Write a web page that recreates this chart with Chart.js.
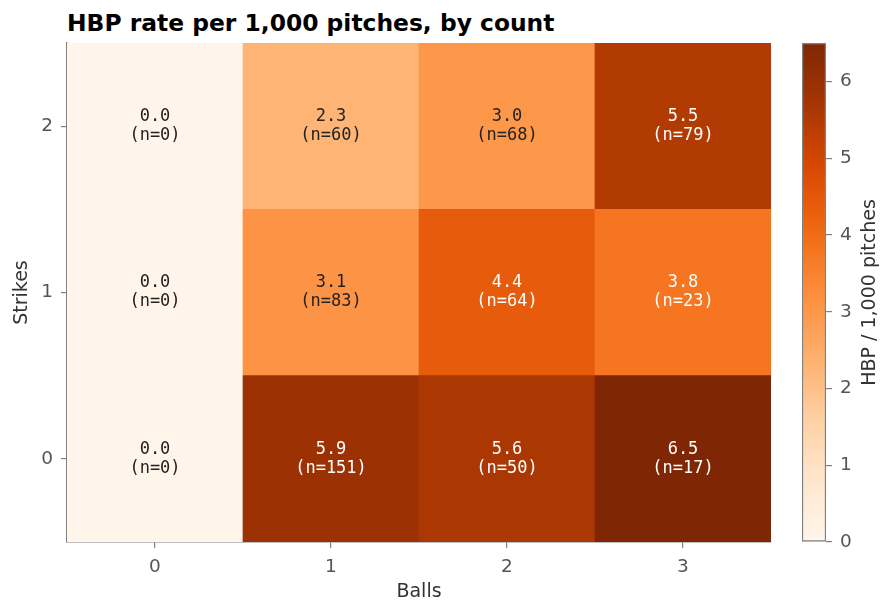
<!DOCTYPE html>
<html>
<head>
<meta charset="utf-8">
<script src="https://cdn.jsdelivr.net/npm/chart.js@4.4.1/dist/chart.umd.min.js"></script>
<style>
  body { margin: 0; background: #fff; }
  #wrap { position: relative; width: 894px; height: 616px; }
  #title { position: absolute; left: 67px; top: 9px; font: bold 23.4px "DejaVu Sans", sans-serif; color: #000; white-space: nowrap; }
  #main { position: absolute; left: 0; top: 0; }
  #cbar { position: absolute; left: 790px; top: 0; }
</style>
</head>
<body>
<div id="wrap">
  <div id="title">HBP rate per 1,000 pitches, by count</div>
  <canvas id="main" width="894" height="616"></canvas>
  <canvas id="cbar" width="104" height="616"></canvas>
</div>
<script>
// Data
const balls = ["0", "1", "2", "3"];
const strikes = [0, 1, 2];
// HBP per 1,000 pitches, one array per strike count (balls 0..3)
const rateStrike0 = [0.0, 5.9, 5.6, 6.5];
const rateStrike1 = [0.0, 3.1, 4.4, 3.8];
const rateStrike2 = [0.0, 2.3, 3.0, 5.5];
// pitch counts
const nStrike0 = [0, 151, 50, 17];
const nStrike1 = [0, 83, 64, 23];
const nStrike2 = [0, 60, 68, 79];
const colorTicks = [0, 1, 2, 3, 4, 5, 6];
const vmax = 6.5;

const rates = [rateStrike0, rateStrike1, rateStrike2];
const counts = [nStrike0, nStrike1, nStrike2];

// ------------------- Colormap (Oranges) -------------------
const oranges = ["#fff5eb","#fee6ce","#fdd0a2","#fdae6b","#fd8d3c","#f16913","#d94801","#a63603","#7f2704"];
function hexToRgb(h) {
  return [parseInt(h.slice(1,3),16), parseInt(h.slice(3,5),16), parseInt(h.slice(5,7),16)];
}
function orangeColor(t) {
  t = Math.max(0, Math.min(1, t));
  const pos = t * (oranges.length - 1);
  const i = Math.min(Math.floor(pos), oranges.length - 2);
  const f = pos - i;
  const a = hexToRgb(oranges[i]), b = hexToRgb(oranges[i+1]);
  const c = a.map((v,k) => Math.round(v + (b[k]-v)*f));
  return `rgb(${c[0]},${c[1]},${c[2]})`;
}

const grey = "#808080";
const tickFont = { family: "DejaVu Sans", size: 18.5 };
const labelFont = { family: "DejaVu Sans", size: 19 };

// ------------------- Heatmap -------------------
const datasets = strikes.map((s, si) => ({
  label: "Strikes " + s,
  data: balls.map(() => [s - 0.5, s + 0.5]),
  backgroundColor: rates[si].map(v => orangeColor(v / vmax)),
  borderWidth: 0,
  barPercentage: 1,
  categoryPercentage: 1,
  grouped: false
}));

const cellLabels = {
  id: "cellLabels",
  afterDatasetsDraw(chart) {
    const ctx = chart.ctx;
    const x = chart.scales.x, y = chart.scales.y;
    ctx.save();
    ctx.font = '17px "DejaVu Sans Mono", monospace';
    ctx.textAlign = "center";
    ctx.textBaseline = "middle";
    strikes.forEach((s, si) => {
      balls.forEach((b, bi) => {
        const v = rates[si][bi];
        const px = x.getPixelForValue(bi);
        const py = y.getPixelForValue(s);
        ctx.fillStyle = v > vmax / 2 ? "#ffffff" : "#222222";
        ctx.fillText(v.toFixed(1), px, py - 9.5);
        ctx.fillText("(n=" + counts[si][bi] + ")", px, py + 9.5);
      });
    });
    ctx.restore();
  }
};

new Chart(document.getElementById("main"), {
  type: "bar",
  data: { labels: balls, datasets },
  options: {
    responsive: false,
    animation: false,
    layout: { padding: { left: 0, right: 123, top: 43, bottom: 0 } },
    plugins: { legend: { display: false }, tooltip: { enabled: false } },
    scales: {
      x: {
        offset: true,
        grid: { offset: false, drawOnChartArea: false, drawTicks: true, tickLength: 6, color: grey, lineWidth: 1.2 },
        border: { display: true, color: grey, width: 1.5 },
        ticks: { color: "#555", font: tickFont, padding: 8, maxRotation: 0 },
        title: { display: true, text: "Balls", color: "#333", font: labelFont, padding: { top: 0, bottom: 13 } },
        afterFit(scale) { scale.height = 74; }
      },
      y: {
        min: -0.5,
        max: 2.5,
        afterBuildTicks(scale) { scale.ticks = strikes.map(v => ({ value: v })); },
        grid: { drawOnChartArea: false, drawTicks: true, tickLength: 6, color: grey, lineWidth: 1.2 },
        border: { display: true, color: grey, width: 1.5 },
        ticks: { color: "#555", font: tickFont, padding: 8 },
        title: { display: true, text: "Strikes", color: "#333", font: labelFont, padding: { top: 11, bottom: 0 } },
        afterFit(scale) { scale.width = 67; }
      }
    }
  },
  plugins: [cellLabels]
});

// ------------------- Colorbar -------------------
const cbarTitle = {
  id: "cbarTitle",
  afterDraw(chart) {
    const ctx = chart.ctx;
    const area = chart.chartArea;
    ctx.save();
    ctx.translate(80, (area.top + area.bottom) / 2);
    ctx.rotate(-Math.PI / 2);
    ctx.font = '19px "DejaVu Sans", sans-serif';
    ctx.fillStyle = "#333";
    ctx.textAlign = "center";
    ctx.textBaseline = "middle";
    ctx.fillText("HBP / 1,000 pitches", 0, 0);
    ctx.restore();
  }
};

new Chart(document.getElementById("cbar"), {
  type: "bar",
  data: {
    labels: [""],
    datasets: [{
      data: [[0, vmax]],
      backgroundColor(ctx) {
        const area = ctx.chart.chartArea;
        if (!area) return oranges[4];
        const g = ctx.chart.ctx.createLinearGradient(0, area.bottom, 0, area.top);
        for (let i = 0; i <= 20; i++) g.addColorStop(i / 20, orangeColor(i / 20));
        return g;
      },
      borderColor: grey,
      borderWidth: 1.5,
      borderSkipped: false,
      barPercentage: 1,
      categoryPercentage: 1
    }]
  },
  options: {
    responsive: false,
    animation: false,
    layout: { padding: { left: 12, right: 0, top: 43, bottom: 74 } },
    plugins: { legend: { display: false }, tooltip: { enabled: false } },
    scales: {
      x: { display: false },
      y: {
        position: "right",
        min: 0,
        max: vmax,
        afterBuildTicks(scale) { scale.ticks = colorTicks.map(v => ({ value: v })); },
        grid: { drawOnChartArea: false, drawTicks: true, tickLength: 6, color: grey, lineWidth: 1.2 },
        border: { display: false },
        ticks: { color: "#555", font: tickFont, padding: 8 },
        afterFit(scale) { scale.width = 68; }
      }
    }
  },
  plugins: [cbarTitle]
});
</script>
</body>
</html>
